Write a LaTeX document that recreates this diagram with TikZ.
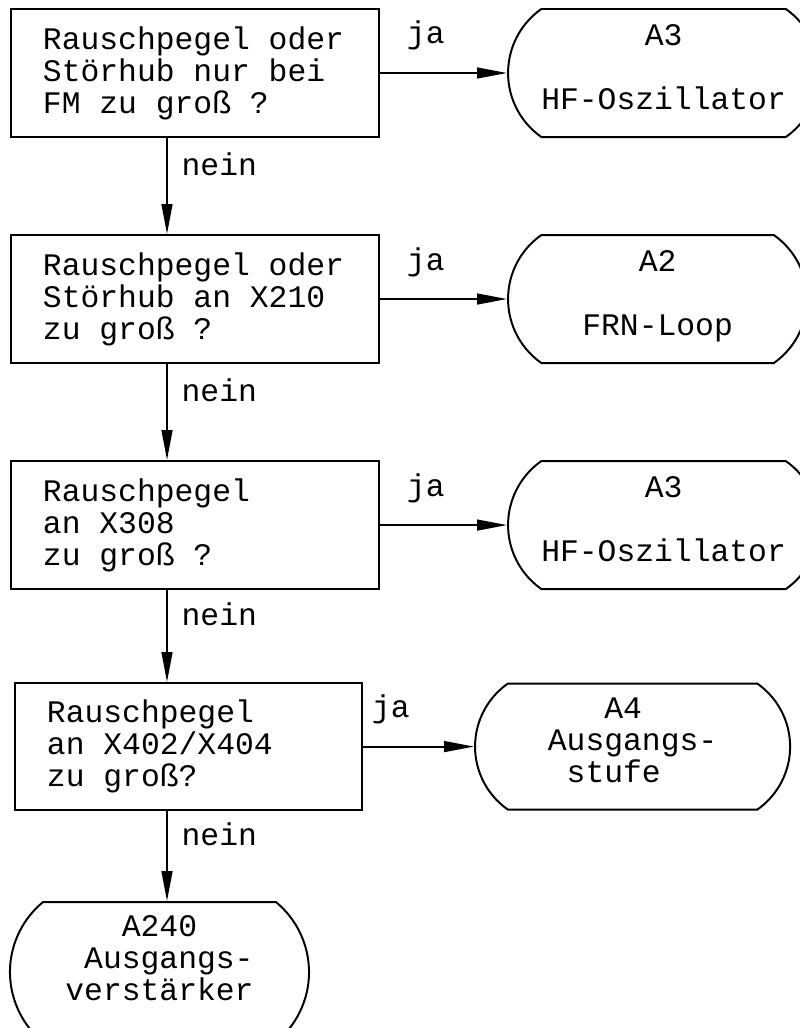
\documentclass[tikz,border=0pt]{standalone}
\usepackage{fontspec}
\setmonofont{Liberation Mono}
\usetikzlibrary{arrows.meta,positioning,shapes.misc}

\begin{document}
\begin{tikzpicture}[x=0.025cm, y=-0.025cm, line width=1.4pt,
    >={Triangle[length=0.75cm, width=0.27cm]},
    node distance=2.4cm and 3.175cm,
    font=\ttfamily\fontsize{22.3}{22.7}\selectfont,
    box/.style={draw, rectangle, align=flush left, text width=7.6cm, inner xsep=0.8cm, minimum height=3.2cm},
    term/.style={draw, rounded rectangle, rounded rectangle arc length=110, align=center, inner xsep=0pt, minimum width=7.475cm, minimum height=3.2cm, text depth=0.3cm},
    ja/.style={anchor=base, yshift=0.725cm},
    nein/.style={anchor=base west, xshift=0.225cm, yshift=0.275cm}]
	\useasboundingbox (0,0) rectangle (800,1028);

	% Abfragen {b1, b2, b3, b4}
	\node [box] (b1) at (195,73) {Rauschpegel oder\\Störhub nur bei\\FM zu groß ?};
	\node [box] (b2) [below=of b1] {Rauschpegel oder\\Störhub an X210\\zu groß ?};
	\node [box] (b3) [below=of b2] {Rauschpegel\\an X308\\zu groß ?};
	\node [box, text width=7.075cm, minimum height=3.175cm] (b4) [below=2.3cm of b3.south west, anchor=north west, xshift=0.1cm] {Rauschpegel\\an X402/X404\\zu groß?};

	% Baugruppen {t1, t2, t3, t4, t5}
	\node [term, inner xsep=-0.15cm] (t1) [right=of b1] {A3\\[\baselineskip]HF-Oszillator};
	\node [term]                     (t2) [right=of b2] {A2\\[\baselineskip]FRN-Loop};
	\node [term, inner xsep=-0.15cm] (t3) [right=of b3] {A3\\[\baselineskip]HF-Oszillator};
	\node [term, align=left, minimum width=7.875cm, minimum height=3.15cm] (t4) [right=2.775cm of b4] {\hphantom{xxx}A4\\Ausgangs-\\\hphantom{x}stufe};
	\node [term, align=left, minimum height=3.5cm, rounded rectangle arc length=101, text depth=0.7cm] (t5) [below=2.25cm of b4, xshift=-0.725cm] {\hphantom{xxx}A240\\\hphantom{x}Ausgangs-\\verstärker};

	% Pfade
	\coordinate (col) at (167,0);
	\path [->] 	(b1) edge node [ja, pos=.36] {ja} (t1)
				(b2) edge node [ja, pos=.36] {ja} (t2)
				(b3) edge node [ja, pos=.36] {ja} (t3)
				(b4) edge node [ja, pos=.25] {ja} (t4)
				(b1.south -| col) edge node [nein] {nein} (b2.north -| col)
				(b2.south -| col) edge node [nein] {nein} (b3.north -| col)
				(b3.south -| col) edge node [nein] {nein} (b4.north -| col)
				(b4.south -| col) edge node [nein] {nein} (t5.north -| col);

\end{tikzpicture}
\end{document}
